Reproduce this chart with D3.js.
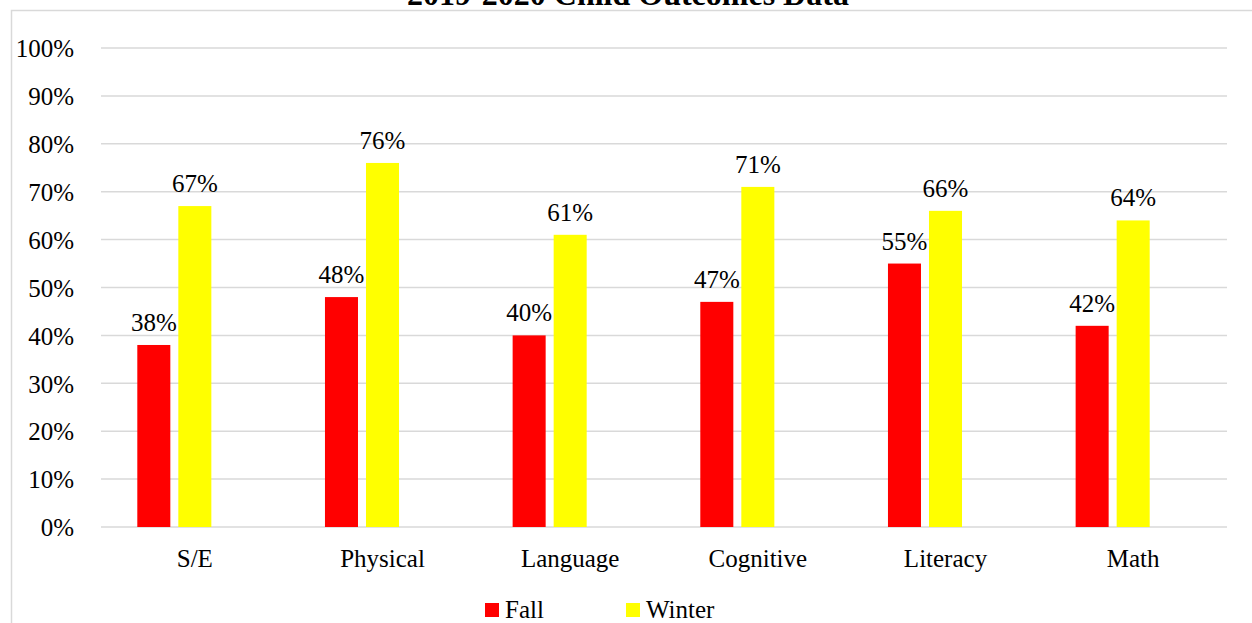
<!DOCTYPE html>
<html><head><meta charset="utf-8">
<script src="https://cdn.jsdelivr.net/npm/d3@7"></script>
<style>body{margin:0;background:#fff}svg{display:block}text{font-family:"Liberation Serif","Times New Roman",serif;fill:#000}</style>
</head><body>
<svg id="c" width="1252" height="623"></svg>
<script>
const categories = ["S/E","Physical","Language","Cognitive","Literacy","Math"];
const fallValues = [38,48,40,47,55,42];
const winterValues = [67,76,61,71,66,64];
const seriesNames = ["Fall","Winter"];
const seriesColors = ["#ff0000","#ffff00"];
const yTicks = [0,10,20,30,40,50,60,70,80,90,100];
const chartTitle = "2019-2020 Child Outcomes Data";

(function(){
const svg = d3.select("#c");
const W = 1252, H = 623;
const mLeft = 101, mRight = 1227, mTop = 48, mBottom = 527;
const FS = 25;

svg.append("path").attr("d", `M11.5,${H} V10.5 H${W}`).attr("fill","none").attr("stroke","#d9d9d9").attr("stroke-width",1.5);

svg.append("text").attr("x", 628).attr("y", 5).attr("text-anchor","middle")
  .attr("font-weight","bold").attr("font-size", 32).text(chartTitle);

const x0 = d3.scaleBand().domain(categories).range([mLeft, mRight]).padding(0);
const x1 = d3.scaleBand().domain(["Fall","Winter","_"]).range([36.3, x0.bandwidth()-36.3]).paddingInner(0.195).paddingOuter(0);
const y = d3.scaleLinear().domain([0,100]).range([mBottom, mTop]);

svg.append("g").selectAll("line").data(yTicks).join("line")
  .attr("x1", mLeft).attr("x2", mRight)
  .attr("y1", d => y(d)).attr("y2", d => y(d))
  .attr("stroke", "#d9d9d9").attr("stroke-width", 1.5);

const yAxis = d3.axisLeft(y).tickValues(yTicks).tickFormat(d => d + "%").tickSize(0).tickPadding(0);
const ya = svg.append("g").attr("transform", `translate(74,0)`).call(yAxis);
ya.select(".domain").remove();
ya.selectAll("text").attr("font-size", FS).attr("font-family", '"Liberation Serif",serif').attr("fill","#000").attr("dy","0.35em");

const xAxis = d3.axisBottom(x0).tickSize(0).tickPadding(0);
const xa = svg.append("g").attr("transform", `translate(0,${mBottom})`).call(xAxis);
xa.select(".domain").remove();
xa.selectAll("text").attr("font-size", FS).attr("font-family", '"Liberation Serif",serif').attr("fill","#000").attr("dy", null).attr("y", 40);

const data = categories.map((c,i) => ({cat:c, vals:[fallValues[i], winterValues[i]]}));
const groups = svg.append("g").selectAll("g").data(data).join("g")
  .attr("transform", d => `translate(${x0(d.cat)},0)`);
groups.selectAll("rect").data(d => d.vals.map((v,j)=>({s:seriesNames[j], v, j}))).join("rect")
  .attr("x", d => x1(d.s)).attr("width", x1.bandwidth())
  .attr("y", d => y(d.v)).attr("height", d => y(0) - y(d.v))
  .attr("fill", d => seriesColors[d.j]);
groups.selectAll("text.lbl").data(d => d.vals.map((v,j)=>({s:seriesNames[j], v, j}))).join("text")
  .attr("class","lbl")
  .attr("x", d => x1(d.s) + x1.bandwidth()/2)
  .attr("y", d => y(d.v) - 14)
  .attr("text-anchor","middle").attr("font-size", FS)
  .text(d => d.v + "%");

const leg = svg.append("g");
const legX = [485, 626];
seriesNames.forEach((s,i) => {
  leg.append("rect").attr("x", legX[i]).attr("y", 603).attr("width", 14).attr("height", 14).attr("fill", seriesColors[i]);
  leg.append("text").attr("x", legX[i] + 20).attr("y", 618).attr("font-size", FS).text(s);
});
})();
</script>
</body></html>
